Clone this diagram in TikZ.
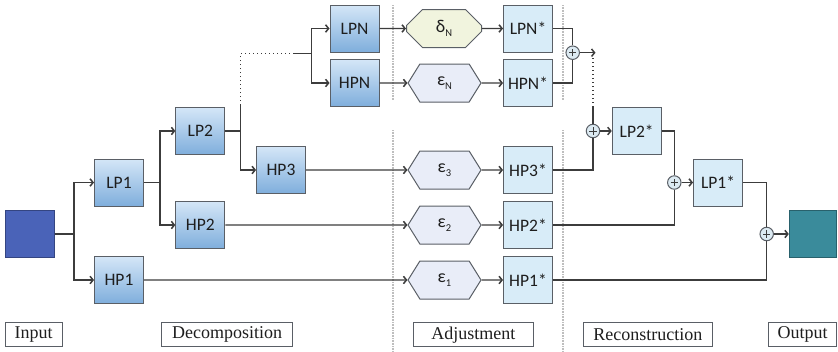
\documentclass[tikz,border=0pt]{standalone}
\usepackage{fontspec}
\setmainfont{Liberation Serif}
\newfontfamily\boxfont{Carlito}
\usetikzlibrary{arrows.meta,shapes.misc,shapes.symbols,calc}
\definecolor{linec}{HTML}{3C3C3C}
\definecolor{boxedge}{HTML}{5A5F66}
\definecolor{dectop}{HTML}{D4E6F7}
\definecolor{decbot}{HTML}{7FAEDC}
\definecolor{recfill}{HTML}{D8ECF8}
\definecolor{hexfill}{HTML}{E9EDF8}
\definecolor{octfill}{HTML}{F1F4DE}
\definecolor{inblue}{HTML}{4A63B8}
\definecolor{outteal}{HTML}{3A8B9B}
\definecolor{sepc}{HTML}{BEBEBE}
\definecolor{pfill}{HTML}{DCEAF2}
\definecolor{txt}{HTML}{1E1E1E}
\newcommand{\subN}[1]{\raisebox{-3.5pt}{\fontsize{10.5}{10.5}\selectfont #1}}
\begin{document}
\begin{tikzpicture}[x=1pt,y=-1pt,
  line/.style={draw=linec, line width=1.1pt},
  arr/.style={line, -{Straight Barb[length=3pt,width=7.5pt,line width=1.5pt]}},
  dotline/.style={draw=linec, line width=1.3pt, dash pattern=on 1.3pt off 2.7pt},
  sep/.style={draw=sepc, line width=1.6pt, dash pattern=on 0.8pt off 0.8pt},
  blk/.style={draw=boxedge, line width=1pt, minimum width=49pt, minimum height=47pt, inner sep=0pt, text=txt, font=\boxfont\fontsize{17.5}{17.5}\selectfont},
  dec/.style={blk, top color=dectop, bottom color=decbot},
  rec/.style={blk, fill=recfill},
  hexn/.style={signal, signal to=west and east, signal pointer angle=116, draw=boxedge, fill=hexfill, line width=1pt, minimum width=73pt, minimum height=38pt, inner sep=0pt, text=txt, font=\boxfont\fontsize{18}{18}\selectfont},
  octn/.style={chamfered rectangle, chamfered rectangle xsep=10pt, chamfered rectangle ysep=10pt, draw=boxedge, fill=octfill, line width=1pt, minimum width=75pt, minimum height=38pt, inner sep=0pt, text=txt, font=\boxfont\fontsize{18}{18}\selectfont},
  plusn/.style={circle, draw=boxedge, fill=pfill, line width=1pt, minimum size=13.5pt, inner sep=0pt,
    path picture={\draw[linec, line width=0.9pt] ($(path picture bounding box.center)+(-3.6pt,0pt)$) -- ++(7.2pt,0pt) ($(path picture bounding box.center)+(0pt,-3.6pt)$) -- ++(0pt,7.2pt);}},
  lab/.style={draw=boxedge, line width=0.9pt, minimum height=24pt, inner sep=0pt, text=txt, font=\fontsize{18}{18}\selectfont}
]
\useasboundingbox (0,0) rectangle (838,351);
% separators
\draw[sep] (393,5) -- (393,100);
\draw[sep] (393,130) -- (393,351);
\draw[sep] (562.7,5) -- (562.7,100);
\draw[sep] (562.7,130) -- (562.7,351);
% nodes
\node[blk, draw=inblue!70!black, fill=inblue] (in) at (29.5,234) {};
\node[dec] (lp1) at (119,182.5) {LP1};
\node[dec] (hp1) at (119,280) {HP1};
\node[dec] (lp2) at (200.3,131) {LP2};
\node[dec] (hp2) at (200.3,225) {HP2};
\node[dec] (hp3) at (281,170) {HP3};
\node[dec] (lpn) at (354.5,28.5) {LPN};
\node[dec] (hpn) at (354.5,83) {HPN};
\node[octn] (dn) at (444,28.5) {δ\subN{N}};
\node[hexn] (en) at (444.5,83) {ε\subN{N}};
\node[hexn] (e3) at (444.5,170) {ε\subN{3}};
\node[hexn] (e2) at (444.5,225) {ε\subN{2}};
\node[hexn] (e1) at (444.5,280) {ε\subN{1}};
\node[rec] (lpns) at (528,28.5) {LPN*};
\node[rec] (hpns) at (528,83) {HPN*};
\node[rec] (hp3s) at (528,170) {HP3*};
\node[rec] (hp2s) at (528,225) {HP2*};
\node[rec] (hp1s) at (528,280) {HP1*};
\node[rec] (lp2s) at (636.7,131) {LP2*};
\node[rec] (lp1s) at (718,182.5) {LP1*};
\node[blk, draw=outteal!70!black, fill=outteal, minimum width=47.4pt] (out) at (813,234) {};
\node[plusn] (pN) at (572.7,52.7) {};
\node[plusn] (p3) at (593,131) {};
\node[plusn] (p2) at (674.3,182.5) {};
\node[plusn] (p1) at (766.7,234) {};
% labels
\node[lab, minimum width=57pt] (lin) at (33.7,334.7) {Input};
\node[lab, minimum width=131pt] (ldec) at (227.2,334.7) {Decomposition};
\node[lab, minimum width=120pt] (ladj) at (473.3,334.7) {Adjustment};
\node[lab, minimum width=129pt] (lrec) at (647.8,334.7) {Reconstruction};
\node[lab, minimum width=68pt] (lout) at (802.5,334.7) {Output};
% junctions
\coordinate (j0) at (74,234);
\coordinate (j1) at (160,182.5);
\coordinate (j2) at (240.7,131);
\coordinate (j2a) at (240.7,105);
\coordinate (j2b) at (240.7,53.3);
\coordinate (j2c) at (293,53.3);
\coordinate (j3) at (311.7,53.3);
\coordinate (cN) at (595.5,52.7);
\coordinate (dN1) at (593,58);
\coordinate (dN2) at (593,106);
% decomposition connectors
\draw[line] (in.east) -- (j0);
\draw[arr] (j0) |- (lp1.west);
\draw[arr] (j0) |- (hp1.west);
\draw[line] (lp1.east) -- (j1);
\draw[arr] (j1) |- (lp2.west);
\draw[arr] (j1) |- (hp2.west);
\draw[line] (lp2.east) -- (j2);
\draw[line] (j2a) -- (j2);
\draw[arr] (j2) |- (hp3.west);
\draw[dotline] (j2a) -- (j2b) -- (j2c);
\draw[line] (j2c) -- (j3);
\draw[arr] (j3) |- (lpn.west);
\draw[arr] (j3) |- (hpn.west);
% adjustment connectors
\draw[arr] (lpn) -- (dn);
\draw[arr] (hpn) -- (en);
\draw[arr] (hp3) -- (e3);
\draw[arr] (hp2) -- (e2);
\draw[arr] (hp1) -- (e1);
\draw[arr] (dn) -- (lpns);
\draw[arr] (en) -- (hpns);
\draw[arr] (e3) -- (hp3s);
\draw[arr] (e2) -- (hp2s);
\draw[arr] (e1) -- (hp1s);
% reconstruction connectors
\draw[line] (lpns.east) -| (pN.north);
\draw[line] (hpns.east) -| (pN.south);
\draw[arr] (pN.east) -- (cN);
\draw[dotline] (dN1) -- (dN2);
\draw[line] (dN2) -- (p3.north);
\draw[line] (hp3s.east) -| (p3.south);
\draw[arr] (p3.east) -- (lp2s.west);
\draw[line] (lp2s.east) -| (p2.north);
\draw[line] (hp2s.east) -| (p2.south);
\draw[arr] (p2.east) -- (lp1s.west);
\draw[line] (lp1s.east) -| (p1.north);
\draw[line] (hp1s.east) -| (p1.south);
\draw[arr] (p1.east) -- (out.west);
\end{tikzpicture}
\end{document}
